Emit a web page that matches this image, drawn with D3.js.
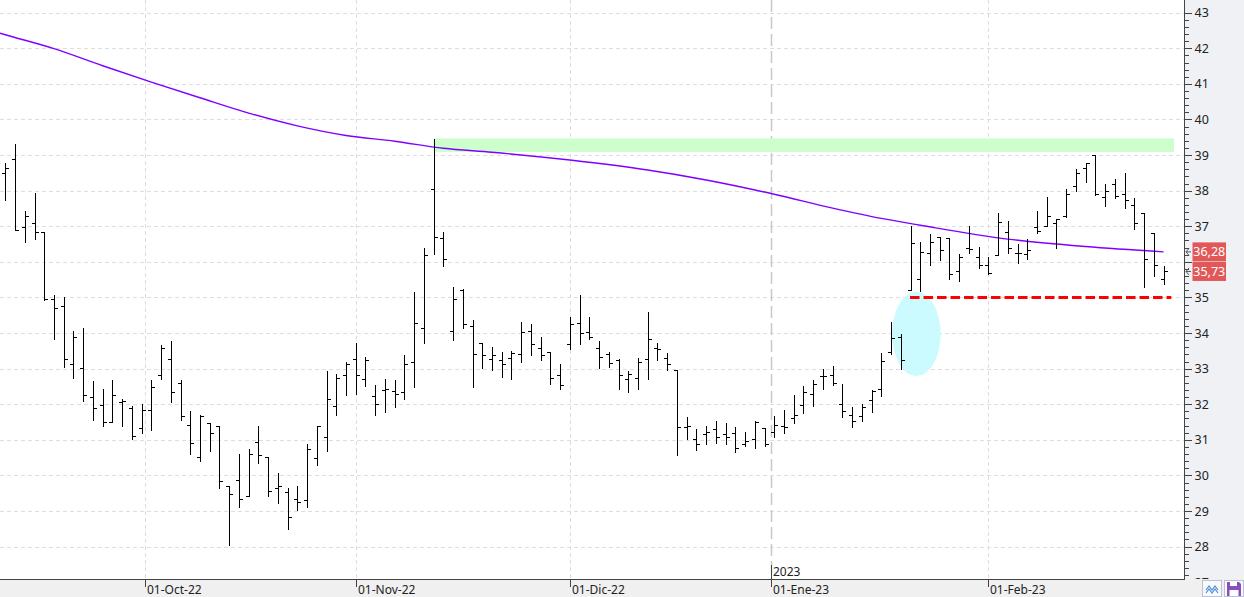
<!DOCTYPE html>
<html>
<head>
<meta charset="utf-8">
<script src="https://cdn.jsdelivr.net/npm/d3@7"></script>
<style>
    html, body { margin: 0; padding: 0; background: #fff; overflow: hidden; }
    svg { display: block; font-family: "Noto Sans", "Open Sans", sans-serif; }
</style>
</head>
<body>
<script>
'use strict';

const WIDTH = 1244;
const HEIGHT = 597;
const PLOT_RIGHT = 1184;
const PLOT_BOTTOM = 579;

const BAR_COLOR = '#000';
const MA_COLOR = '#8000ff';
const GRID_COLOR = '#dedede';
const YEAR_GRID_COLOR = '#c8c8c8';
const AXIS_COLOR = '#444';
const PANEL_COLOR = '#f0f1f4';
const BOTTOM_PANEL_COLOR = '#f0f0f0';
const ZONE_COLOR = '#ccffcc';
const SUPPORT_COLOR = '#ff0000';
const ELLIPSE_COLOR = '#ccfbff';
const LABEL_COLOR = '#e25858';

// Trading sessions: weekdays from 12-Sep-22, the exchange was shut on 26-Dec-22.
const FIRST_SESSION = '2022-09-12';
const SESSION_COUNT = 120;
const HOLIDAYS = ['2022-12-26'];

// Daily bars, one value per session.
const OPENS = [
    38.51, 38.88, 36.99, 37.08, 36.83, 34.97, 34.77, 33.12, 33.03, 32.19,
    31.99, 31.51, 32.05, 31.88, 31.32, 31.83, 32.81, 33.26, 32.61, 31.43,
    30.53, 31.48, 31.40, 29.71, 29.88, 29.43, 30.95, 30.53, 29.66, 29.52,
    29.35, 29.30, 30.50, 31.09, 31.96, 32.83, 33.28, 32.72, 32.22, 32.41,
    32.36, 32.33, 33.20, 34.13, 38.04, 36.66, 34.07, 35.20, 34.21, 33.71,
    33.28, 33.23, 33.31, 33.40, 34.07, 33.59, 33.48, 32.81, 33.68, 34.27,
    34.02, 33.57, 33.42, 33.23, 32.72, 32.75, 33.28, 33.57, 33.31, 32.95,
    31.37, 31.03, 31.15, 31.29, 31.15, 31.18, 30.87, 31.01, 31.34, 31.23,
    31.40, 31.60, 31.99, 32.30, 32.78, 32.81, 32.02, 31.71, 31.68, 32.13,
    32.44, 33.48, 33.90, 35.22, 35.51, 36.26, 36.69, 36.66, 35.73, 36.40,
    36.15, 35.90, 36.18, 36.85, 36.24, 36.21, 36.99, 37.00, 37.08, 37.28,
    38.12, 38.63, 38.99, 37.81, 38.18, 37.90, 37.61, 37.36, 36.80, 35.53
];
const HIGHS = [
    38.77, 39.30, 37.43, 37.93, 36.83, 35.06, 35.02, 34.05, 34.13, 32.65,
    32.44, 32.69, 32.15, 31.96, 32.02, 32.67, 33.65, 33.79, 32.69, 31.82,
    31.71, 31.48, 31.40, 29.71, 30.59, 30.75, 31.38, 30.53, 30.08, 29.66,
    29.71, 30.87, 31.40, 32.92, 32.86, 33.20, 33.71, 33.34, 32.53, 32.72,
    32.67, 33.37, 35.14, 36.38, 39.44, 36.83, 35.28, 35.25, 34.38, 33.73,
    33.62, 33.46, 33.49, 34.30, 34.24, 33.90, 33.48, 33.12, 34.44, 35.08,
    34.44, 33.79, 33.48, 33.26, 32.92, 33.31, 34.58, 33.71, 33.45, 32.95,
    31.63, 31.29, 31.40, 31.54, 31.46, 31.37, 31.23, 31.54, 31.34, 31.68,
    31.85, 32.27, 32.50, 32.67, 33.00, 33.06, 32.58, 31.91, 32.02, 32.41,
    33.45, 34.30, 33.96, 37.00, 36.55, 36.77, 36.69, 36.66, 36.21, 37.00,
    36.43, 36.15, 37.36, 37.14, 36.49, 36.63, 37.42, 37.82, 37.19, 38.06,
    38.60, 38.79, 38.99, 38.20, 38.34, 38.51, 37.78, 37.36, 36.80, 35.87
];
const LOWS = [
    37.73, 36.89, 36.56, 36.65, 34.92, 33.84, 33.05, 32.74, 32.10, 31.56,
    31.39, 31.51, 31.39, 31.02, 31.20, 31.28, 32.71, 32.06, 31.56, 30.60,
    30.41, 30.69, 29.65, 28.04, 29.11, 29.43, 30.35, 29.42, 29.22, 28.49,
    29.03, 29.11, 30.29, 30.69, 31.70, 32.26, 32.30, 32.51, 31.71, 31.77,
    31.91, 32.16, 32.49, 33.71, 36.21, 35.87, 33.80, 34.13, 32.49, 33.03,
    32.95, 32.77, 32.71, 33.20, 33.39, 33.25, 32.57, 32.43, 33.54, 33.68,
    33.82, 33.02, 33.05, 32.43, 32.35, 32.43, 32.72, 33.25, 32.95, 30.57,
    31.03, 30.70, 30.89, 30.92, 30.87, 30.67, 30.84, 30.78, 30.84, 31.09,
    31.18, 31.48, 31.74, 31.96, 32.44, 32.55, 31.65, 31.37, 31.54, 31.79,
    32.22, 33.41, 32.99, 35.20, 35.17, 35.90, 36.04, 35.51, 35.45, 36.24,
    35.84, 35.65, 36.18, 36.24, 35.98, 36.07, 36.80, 37.00, 36.40, 37.25,
    37.98, 38.23, 37.87, 37.56, 37.78, 37.50, 36.91, 35.28, 35.59, 35.39
];
const CLOSES = [
    38.65, 36.89, 37.30, 36.83, 34.95, 34.69, 33.26, 33.90, 32.27, 31.88,
    31.51, 32.27, 32.08, 31.12, 31.83, 32.47, 33.57, 32.33, 31.68, 30.92,
    31.68, 31.20, 29.83, 29.49, 29.35, 30.59, 30.56, 29.55, 29.69, 28.84,
    29.26, 30.73, 31.40, 32.16, 32.75, 33.12, 32.83, 33.23, 32.02, 32.44,
    32.30, 33.14, 34.27, 36.18, 36.71, 36.07, 34.97, 34.24, 33.42, 33.37,
    33.37, 33.14, 33.45, 34.04, 33.68, 33.37, 32.75, 32.55, 34.24, 33.99,
    33.90, 33.34, 33.17, 32.81, 32.86, 33.20, 33.82, 33.54, 33.12, 31.37,
    31.40, 30.87, 31.23, 31.09, 31.09, 30.78, 30.98, 31.51, 30.89, 31.43,
    31.37, 31.71, 32.33, 32.58, 32.78, 32.61, 31.82, 31.54, 31.91, 32.38,
    33.22, 33.86, 33.25, 36.52, 36.29, 36.57, 36.32, 35.65, 36.15, 36.35,
    35.90, 35.70, 37.11, 36.40, 36.26, 36.32, 36.88, 37.28, 37.19, 37.92,
    38.51, 38.77, 37.92, 37.98, 37.84, 37.75, 37.08, 36.07, 35.90, 35.73
];

// Moving average, read at a handful of sessions (session number, price).
const MA_SESSIONS = [-1, 0, 5, 10, 15, 20, 25, 30, 35, 40, 45, 50, 58, 66, 72, 79, 85, 90, 94, 103, 111, 119];
const MA_VALUES = [42.46, 42.38, 41.99, 41.51, 41.05, 40.61, 40.18, 39.82, 39.55, 39.39, 39.19, 39.08,
    38.86, 38.58, 38.30, 37.90, 37.51, 37.22, 37.03, 36.64, 36.43, 36.28];

// Drawn annotations.
const ZONE_SESSIONS = [44, 120.07];
const ZONE_PRICES = [39.09, 39.47];
const SUPPORT_SESSIONS = [92.95, 119.8];
const SUPPORT_PRICE = 35.0;
const ELLIPSE_SESSIONS = [91.1, 96.1];
const ELLIPSE_PRICES = [32.79, 35.16];

// Axes.
const PRICE_TICKS = d3.range(27, 44);
const MONTH_DATES = ['2022-10-01', '2022-11-01', '2022-12-01', '2023-01-01', '2023-02-01'];
const MONTH_LABELS = ['01-Oct-22', '01-Nov-22', '01-Dic-22', '01-Ene-23', '01-Feb-23'];
const YEAR_DATE = '2023-01-01';
const YEAR_LABEL = '2023';

const parseDate = d3.utcParse('%Y-%m-%d');
const priceFormat = d3.formatLocale({decimal: ',', thousands: '.', grouping: [3], currency: ['', '']}).format('.2f');

function tradingSessions() {
    let holidays = new Set(HOLIDAYS);
    let days = d3.utcDay.range(parseDate(FIRST_SESSION), d3.utcDay.offset(parseDate(FIRST_SESSION), 250));

    return days.filter(function(day) {
        let weekday = day.getUTCDay();
        return weekday !== 0 && weekday !== 6 && !holidays.has(d3.utcFormat('%Y-%m-%d')(day));
    }).slice(0, SESSION_COUNT);
}

// Fractional session number of a calendar date (weekends fall between sessions).
function sessionOf(sessions, date) {
    let i = d3.bisectRight(sessions, date) - 1;
    if (i < 0 || +sessions[i] === +date || i >= sessions.length - 1) {
        return i;
    }
    return i + (date - sessions[i]) / (sessions[i + 1] - sessions[i]);
}

function crisp(value) {
    return Math.round(value) + 0.5;
}

function main() {
    let sessions = tradingSessions();

    let x = d3.scaleLinear()
            .domain([-0.55, 121.1])
            .range([0, PLOT_RIGHT]);

    let y = d3.scaleLinear()
            .domain([28, 43])
            .range([546.6, 12.7]);

    let bars = sessions.map(function(date, i) {
        return {date: date, index: i, open: OPENS[i], high: HIGHS[i], low: LOWS[i], close: CLOSES[i]};
    });

    let lastValues = [MA_VALUES[MA_VALUES.length - 1], CLOSES[CLOSES.length - 1]];

    let svg = d3.select('body')
            .append('svg')
            .attr('width', WIDTH)
            .attr('height', HEIGHT);

    svg.append('defs')
            .append('clipPath')
            .attr('id', 'plot-clip')
            .append('rect')
            .attr('width', PLOT_RIGHT)
            .attr('height', PLOT_BOTTOM);

    // Backgrounds.
    svg.append('rect')
            .attr('width', WIDTH)
            .attr('height', HEIGHT)
            .attr('fill', '#fff');

    svg.append('rect')
            .attr('x', PLOT_RIGHT)
            .attr('width', WIDTH - PLOT_RIGHT)
            .attr('height', PLOT_BOTTOM)
            .attr('fill', PANEL_COLOR);

    let plot = svg.append('g')
            .attr('clip-path', 'url(#plot-clip)');

    // Grid.
    plot.selectAll('.hgrid')
            .data(d3.range(28, 44))
            .enter()
            .append('line')
            .attr('class', 'hgrid')
            .attr('x1', 0)
            .attr('x2', PLOT_RIGHT)
            .attr('y1', function(d) { return crisp(y(d)); })
            .attr('y2', function(d) { return crisp(y(d)); })
            .attr('stroke', GRID_COLOR)
            .attr('stroke-dasharray', '4,3');

    let months = MONTH_DATES.map(function(date, i) {
        return {label: MONTH_LABELS[i], pos: sessionOf(sessions, parseDate(date)), year: date === YEAR_DATE};
    });

    plot.selectAll('.vgrid')
            .data(months)
            .enter()
            .append('line')
            .attr('class', 'vgrid')
            .attr('x1', function(d) { return crisp(x(d.pos)); })
            .attr('x2', function(d) { return crisp(x(d.pos)); })
            .attr('y1', 0)
            .attr('y2', PLOT_BOTTOM)
            .attr('stroke', function(d) { return d.year ? YEAR_GRID_COLOR : GRID_COLOR; })
            .attr('stroke-width', function(d) { return d.year ? 1.5 : 1; })
            .attr('stroke-dasharray', function(d) { return d.year ? '12,5' : '4,3'; });

    // Resistance zone and the highlighted area.
    plot.append('rect')
            .attr('x', x(ZONE_SESSIONS[0]))
            .attr('y', y(ZONE_PRICES[1]))
            .attr('width', x(ZONE_SESSIONS[1]) - x(ZONE_SESSIONS[0]))
            .attr('height', y(ZONE_PRICES[0]) - y(ZONE_PRICES[1]))
            .attr('fill', ZONE_COLOR);

    plot.append('ellipse')
            .attr('cx', (x(ELLIPSE_SESSIONS[0]) + x(ELLIPSE_SESSIONS[1])) / 2)
            .attr('cy', (y(ELLIPSE_PRICES[0]) + y(ELLIPSE_PRICES[1])) / 2)
            .attr('rx', (x(ELLIPSE_SESSIONS[1]) - x(ELLIPSE_SESSIONS[0])) / 2)
            .attr('ry', (y(ELLIPSE_PRICES[0]) - y(ELLIPSE_PRICES[1])) / 2)
            .attr('fill', ELLIPSE_COLOR);

    // Moving average.
    let maLine = d3.line()
            .curve(d3.curveMonotoneX)
            .x(function(d) { return x(d[0]); })
            .y(function(d) { return y(d[1]); });

    plot.append('path')
            .datum(d3.zip(MA_SESSIONS, MA_VALUES))
            .attr('d', maLine)
            .attr('fill', 'none')
            .attr('stroke', MA_COLOR)
            .attr('stroke-width', 1.4);

    // OHLC bars: high-low line, open on the left, close on the right.
    plot.selectAll('.bar')
            .data(bars)
            .enter()
            .append('path')
            .attr('class', 'bar')
            .attr('d', function(d) {
                let cx = crisp(x(d.index));
                return `M${cx},${Math.round(y(d.high))}V${Math.round(y(d.low)) + 1}`
                        + `M${cx - 3.5},${crisp(y(d.open))}H${cx}`
                        + `M${cx},${crisp(y(d.close))}H${cx + 3.5}`;
            })
            .attr('fill', 'none')
            .attr('stroke', BAR_COLOR)
            .attr('stroke-width', 1)
            .attr('shape-rendering', 'crispEdges');

    // Support line.
    plot.append('line')
            .attr('x1', x(SUPPORT_SESSIONS[0]))
            .attr('x2', x(SUPPORT_SESSIONS[1]))
            .attr('y1', y(SUPPORT_PRICE))
            .attr('y2', y(SUPPORT_PRICE))
            .attr('stroke', SUPPORT_COLOR)
            .attr('stroke-width', 3)
            .attr('stroke-dasharray', '9.5,4');

    // Price axis on the right; a label hidden by the value boxes is not drawn.
    let hidden = function(d) {
        return lastValues.some(function(v) { return Math.abs(y(v) - y(d)) < 12; });
    };

    let priceAxis = svg.append('g')
            .attr('transform', `translate(${PLOT_RIGHT + 0.5},0)`)
            .call(d3.axisRight(y)
                    .tickValues(PRICE_TICKS)
                    .tickSize(7)
                    .tickPadding(3)
                    .tickFormat(function(d) { return hidden(d) ? '' : d3.format('d')(d); }));
    priceAxis.select('.domain').remove();

    let minorAxis = svg.append('g')
            .attr('transform', `translate(${PLOT_RIGHT + 0.5},0)`)
            .call(d3.axisRight(y)
                    .tickValues(d3.range(135, 216).filter(function(v) { return v % 5 !== 0; }).map(function(v) { return v / 5; }))
                    .tickSize(4)
                    .tickFormat(''));
    minorAxis.select('.domain').remove();

    svg.selectAll('.tick line')
            .attr('stroke', AXIS_COLOR)
            .attr('shape-rendering', 'crispEdges');
    priceAxis.selectAll('.tick text')
            .attr('fill', '#222')
            .attr('font-size', 12.5)
            .attr('font-family', '"Noto Sans", sans-serif');

    svg.append('line')
            .attr('x1', PLOT_RIGHT + 0.5)
            .attr('x2', PLOT_RIGHT + 0.5)
            .attr('y1', 0)
            .attr('y2', HEIGHT)
            .attr('stroke', AXIS_COLOR);

    // Date axis along the bottom.
    svg.append('rect')
            .attr('y', PLOT_BOTTOM)
            .attr('width', WIDTH)
            .attr('height', HEIGHT - PLOT_BOTTOM)
            .attr('fill', BOTTOM_PANEL_COLOR);

    svg.append('line')
            .attr('x1', 0)
            .attr('x2', PLOT_RIGHT + 1)
            .attr('y1', PLOT_BOTTOM + 0.5)
            .attr('y2', PLOT_BOTTOM + 0.5)
            .attr('stroke', AXIS_COLOR);

    let monthTicks = svg.selectAll('.month')
            .data(months)
            .enter()
            .append('g')
            .attr('class', 'month')
            .attr('transform', function(d) { return `translate(${crisp(x(d.pos))},0)`; });

    monthTicks.append('line')
            .attr('y1', PLOT_BOTTOM)
            .attr('y2', PLOT_BOTTOM + 8)
            .attr('stroke', AXIS_COLOR);

    monthTicks.append('text')
            .attr('x', 1.5)
            .attr('y', 594)
            .attr('font-size', 12)
            .attr('fill', '#222')
            .text(function(d) { return d.label; });

    let yearX = crisp(x(sessionOf(sessions, parseDate(YEAR_DATE))));
    svg.append('line')
            .attr('x1', yearX)
            .attr('x2', yearX)
            .attr('y1', 565)
            .attr('y2', PLOT_BOTTOM + 8)
            .attr('stroke', AXIS_COLOR);
    svg.append('text')
            .attr('x', yearX + 1.5)
            .attr('y', 576)
            .attr('font-size', 12)
            .attr('fill', '#222')
            .text(YEAR_LABEL);

    // Last values of the moving average and the price.
    let markers = svg.selectAll('.last')
            .data(lastValues)
            .enter()
            .append('g')
            .attr('class', 'last')
            .attr('transform', function(d) { return `translate(0,${y(d)})`; });

    markers.append('path')
            .attr('d', `M${PLOT_RIGHT + 5},-3.5L${PLOT_RIGHT + 2},0L${PLOT_RIGHT + 5},3.5M${PLOT_RIGHT + 2},0H${PLOT_RIGHT + 7}`)
            .attr('fill', 'none')
            .attr('stroke', '#555');

    markers.append('rect')
            .attr('x', 1192.5)
            .attr('y', -9.5)
            .attr('width', 33.5)
            .attr('height', 19)
            .attr('fill', LABEL_COLOR);

    markers.append('text')
            .attr('x', 1209.3)
            .attr('y', 4.5)
            .attr('text-anchor', 'middle')
            .attr('font-size', 12.5)
            .attr('fill', '#fff')
            .text(function(d) { return priceFormat(d); });

    // Small buttons in the corner.
    let buttons = svg.append('g');
    buttons.append('rect')
            .attr('x', 1202.5)
            .attr('y', 580.5)
            .attr('width', 19)
            .attr('height', 16)
            .attr('fill', '#fafafa')
            .attr('stroke', '#b9c3d3');
    buttons.append('path')
            .attr('d', 'M1206,590l3,-4l3,4l3,-4l3,4M1206,593l3,-4l3,4l3,-4l3,4')
            .attr('fill', 'none')
            .attr('stroke', '#4a90d9')
            .attr('stroke-width', 1.2);
    buttons.append('rect')
            .attr('x', 1224.5)
            .attr('y', 580.5)
            .attr('width', 19)
            .attr('height', 16)
            .attr('fill', '#fafafa')
            .attr('stroke', '#b9c3d3');
    buttons.append('path')
            .attr('d', 'M1227,582h12l2,2v12h-14z')
            .attr('fill', '#8a4fbf');
    buttons.append('rect')
            .attr('x', 1230)
            .attr('y', 582)
            .attr('width', 7)
            .attr('height', 4)
            .attr('fill', '#fff');
    buttons.append('rect')
            .attr('x', 1229.5)
            .attr('y', 590)
            .attr('width', 9)
            .attr('height', 6)
            .attr('fill', '#fff');
}

document.addEventListener('DOMContentLoaded', function(event) {
    main();
});
</script>
</body>
</html>
